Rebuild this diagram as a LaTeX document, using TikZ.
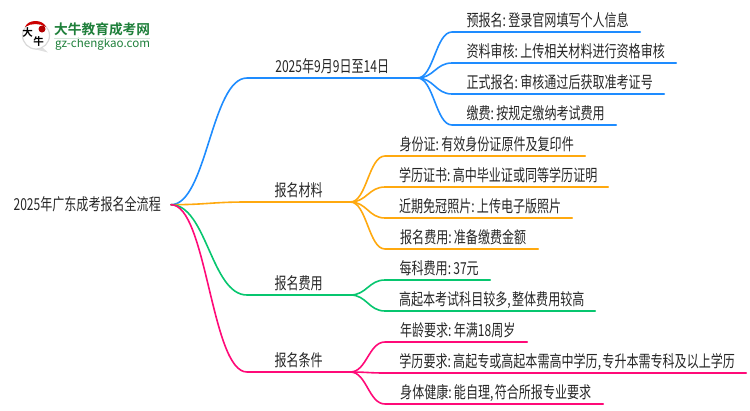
\documentclass[tikz,border=0pt]{standalone}
\usepackage{fontspec}
\usetikzlibrary{calc}
\setmainfont[FakeStretch=0.73,WordSpace=0.5]{Noto Sans CJK SC}
\newfontfamily\logofont[BoldFont={Noto Sans CJK SC Bold}]{Noto Sans CJK SC}
\definecolor{lineblue}{HTML}{1E8CFF}
\definecolor{lineorange}{HTML}{FFA90F}
\definecolor{linegreen}{HTML}{07C66F}
\definecolor{linepink}{HTML}{FF0A78}
\definecolor{logogreen}{HTML}{1E7F3A}
\tikzstyle{every node}=[inner sep=0pt,text=black!85,font=\fontsize{16.5}{18}\selectfont]
\tikzstyle{root}=[anchor=east,inner xsep=10pt,inner ysep=3pt]
\tikzstyle{branch}=[anchor=south west,text height=13pt,text depth=3pt,inner ysep=2pt]
\tikzstyle{leaf}=[anchor=south west,text height=13pt,text depth=3pt,inner ysep=2pt,execute at begin node={\hspace{3pt}}]
\tikzstyle{link}=[line width=1.6pt,line cap=round]
\tikzstyle{curve}=[to path={.. controls ($(\tikztostart)!0.47!(\tikztotarget |- \tikztostart)$) and ($(\tikztotarget)!0.47!(\tikztostart |- \tikztotarget)$) .. (\tikztotarget)}]
\tikzstyle{logotext}=[text=logogreen]
\tikzstyle{logochar}=[text=black,font=\fontsize{10.5}{11}\bfseries\logofont]

\begin{document}
\begin{tikzpicture}[x=1pt,y=-1pt]
    \useasboundingbox (0,0) rectangle (750,410);
    % logo
    \fill[black!12] (30,48) -- (48,52.5) -- (42,47) -- cycle;
    \draw[black!15,line width=1.2pt,fill=white] (36,35.5) circle [radius=13.5];
    \fill[red!80!black] (25,27) .. controls (28,19) and (43,19) .. (46,27)
        .. controls (40,23) and (31,23) .. (25,27) -- cycle;
    \fill[red!70!black] (42,29) circle [radius=3.5];
    \node[logochar] (logoda) at (27.5,32.5) {大};
    \node[logochar] (logoniu) at (38.5,42) {牛};
    \node[logotext,anchor=west,font=\fontsize{13.7}{14}\bfseries\logofont] (logoname) at (54,29.5) {大牛教育成考网};
    \node[logotext,anchor=west,font=\fontsize{11.6}{12}\logofont] (logourl) at (55,44.5) {gz-chengkao.com};
    \draw[logogreen!20,line width=.8pt] (logoname.west |- 0,38.7) -- (150,38.7);
    % nodes
    \node[root] (main) at (171,204.7) {2025年广东成考报名全流程};
    \node[branch,minimum width=170pt] (date) at (247,78) {2025年9月9日至14日};
    \node[branch,minimum width=103pt] (material) at (247,202) {报名材料};
    \node[branch,minimum width=103pt] (fee) at (247,295) {报名费用};
    \node[branch,minimum width=103pt] (cond) at (247,372) {报名条件};
    \node[leaf,minimum width=188pt] (date1) at (452,32) {预报名: 登录官网填写个人信息};
    \node[leaf,minimum width=224pt] (date2) at (452,63) {资料审核: 上传相关材料进行资格审核};
    \node[leaf,minimum width=212pt] (date3) at (452,94) {正式报名: 审核通过后获取准考证号};
    \node[leaf,minimum width=164pt] (date4) at (452,125) {缴费: 按规定缴纳考试费用};
    \node[leaf,minimum width=200pt] (material1) at (385,156) {身份证: 有效身份证原件及复印件};
    \node[leaf,minimum width=223pt] (material2) at (385,187) {学历证书: 高中毕业证或同等学历证明};
    \node[leaf,minimum width=187pt] (material3) at (385,218) {近期免冠照片: 上传电子版照片};
    \node[leaf,minimum width=153pt] (material4) at (385,249) {报名费用: 准备缴费金额};
    \node[leaf,minimum width=105pt] (fee1) at (385,280) {每科费用: 37元};
    \node[leaf,minimum width=210pt] (fee2) at (385,311) {高起本考试科目较多, 整体费用较高};
    \node[leaf,minimum width=142pt] (cond1) at (385,342) {年龄要求: 年满18周岁};
    \node[leaf,minimum width=361pt] (cond2) at (385,373) {学历要求: 高起专或高起本需高中学历, 专升本需专科及以上学历};
    \node[leaf,minimum width=218pt] (cond3) at (385,404) {身体健康: 能自理, 符合所报专业要求};
    % connectors
    \draw[link,lineblue] (main.east) to[curve] (date.south west) -- (date.south east);
    \draw[link,lineorange] (main.east) to[curve] (material.south west) -- (material.south east);
    \draw[link,linegreen] (main.east) to[curve] (fee.south west) -- (fee.south east);
    \draw[link,linepink] (main.east) to[curve] (cond.south west) -- (cond.south east);
    \draw[link,lineblue] (date.south east) to[curve] (date1.south west) -- (date1.south east);
    \draw[link,lineblue] (date.south east) to[curve] (date2.south west) -- (date2.south east);
    \draw[link,lineblue] (date.south east) to[curve] (date3.south west) -- (date3.south east);
    \draw[link,lineblue] (date.south east) to[curve] (date4.south west) -- (date4.south east);
    \draw[link,lineorange] (material.south east) to[curve] (material1.south west) -- (material1.south east);
    \draw[link,lineorange] (material.south east) to[curve] (material2.south west) -- (material2.south east);
    \draw[link,lineorange] (material.south east) to[curve] (material3.south west) -- (material3.south east);
    \draw[link,lineorange] (material.south east) to[curve] (material4.south west) -- (material4.south east);
    \draw[link,linegreen] (fee.south east) to[curve] (fee1.south west) -- (fee1.south east);
    \draw[link,linegreen] (fee.south east) to[curve] (fee2.south west) -- (fee2.south east);
    \draw[link,linepink] (cond.south east) to[curve] (cond1.south west) -- (cond1.south east);
    \draw[link,linepink] (cond.south east) to[curve] (cond2.south west) -- (cond2.south east);
    \draw[link,linepink] (cond.south east) to[curve] (cond3.south west) -- (cond3.south east);
\end{tikzpicture}
\end{document}
